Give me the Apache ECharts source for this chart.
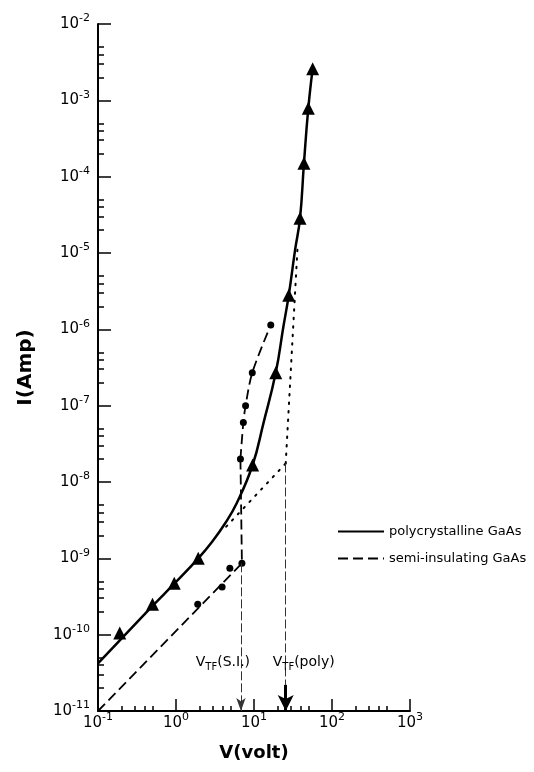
<!DOCTYPE html>
<html><head><meta charset="utf-8">
<script src="https://cdn.jsdelivr.net/npm/echarts@6/dist/echarts.min.js"></script>
<style>html,body{margin:0;padding:0;background:#fff}#c{width:534px;height:772px}</style>
</head><body><div id="c"></div>
<script>
// ---- data ----
const xMajorTicks = [0.1, 1, 10, 100, 1000];
const yMajorTicks = [1e-11, 1e-10, 1e-9, 1e-8, 1e-7, 1e-6, 1e-5, 1e-4, 1e-3, 1e-2];
const minorSteps = [2, 3, 4, 5];

const polyCurve = [[0.1,4.2e-11],[0.5,2.38e-10],[0.95,4.65e-10],[1.93,1e-9],[2.89,1.64e-9],[4.25,2.86e-9],[6.0,5.26e-9],[9.6,1.67e-8],[13.2,5.87e-8],[19,2.7e-7],[23.8,1.08e-6],[27.9,2.8e-6],[33.6,1.09e-5],[38.9,2.85e-5],[43.7,1.5e-4],[49.7,7.9e-4],[56.5,2.6e-3]];
const polyPoints = [[0.19,1.05e-10],[0.5,2.5e-10],[0.95,4.7e-10],[1.93,1e-9],[9.6,1.67e-8],[19,2.7e-7],[27.9,2.8e-6],[38.9,2.85e-5],[43.7,1.5e-4],[49.7,7.9e-4],[56.5,2.6e-3]];

const siCurveLow = [[0.1,1e-11],[7.0,8.6e-10],[6.7,2e-8]];
const siCurveHigh = [[6.7,2e-8],[7.3,6e-8],[7.8,1e-7],[9.5,2.7e-7],[16.4,1.14e-6]];
const siPoints = [[1.9,2.5e-10],[3.9,4.2e-10],[4.9,7.4e-10],[7.0,8.6e-10],[6.7,2e-8],[7.3,6e-8],[7.8,1e-7],[9.5,2.7e-7],[16.4,1.14e-6]];

const ohmicExtension = [[4.4,2.6e-9],[25.5,1.75e-8]];
const tflLine = [[25.5,1.75e-8],[36.3,1.27e-5]];

const vtfSI = 6.8, vtfSITop = 8.6e-10;
const vtfPoly = 25.5, vtfPolyTop = 1.75e-8, vtfPolyArrowTop = 2.2e-11;
const axisBottom = 1e-11;
const vtfLabelY = 4.4e-11;

const seriesNames = ['polycrystalline GaAs', 'semi-insulating GaAs'];

// ---- chart ----
const FONT = 'DejaVu Sans';
function minorOf(majors){
  const out = [];
  majors.slice(0, -1).forEach(m => minorSteps.forEach(k => out.push(+(m * k).toPrecision(3))));
  return out;
}
const xMinor = minorOf(xMajorTicks);
const yMinor = minorOf(yMajorTicks);
function powLabel(v){
  const e = Math.round(Math.log10(v));
  return '{b|10}{s|' + e + '}';
}
const richLab = {
  b: {fontSize: 15, lineHeight: 22, verticalAlign: 'middle', fontFamily: FONT, color: '#000'},
  s: {fontSize: 11, lineHeight: 12, verticalAlign: 'top', fontFamily: FONT, color: '#000'}
};
const richVtf = {
  v: {fontSize: 14, lineHeight: 22, verticalAlign: 'middle', fontFamily: FONT, color: '#000'},
  sub: {fontSize: 10, lineHeight: 12, verticalAlign: 'bottom', fontFamily: FONT, color: '#000'}
};
const black = '#000';

const chart = echarts.init(document.getElementById('c'), null, {renderer: 'canvas'});
chart.setOption({
  animation: false,
  backgroundColor: '#fff',
  grid: {left: 98, right: 124, top: 24, bottom: 61, containLabel: false},
  legend: {
    data: seriesNames, orient: 'vertical', left: 332, top: 520,
    itemWidth: 46, itemHeight: 14, itemGap: 14, selectedMode: false,
    itemStyle: {color: 'rgba(0,0,0,0)', borderWidth: 0, opacity: 0},
    textStyle: {fontFamily: FONT, fontSize: 13, color: '#000'}
  },
  xAxis: [
    {type: 'log', logBase: 10, min: 0.1, max: 1000, position: 'bottom',
     axisLine: {show: true, onZero: false, lineStyle: {color: black, width: 2}},
     axisTick: {show: true, inside: true, length: 12, customValues: xMajorTicks, lineStyle: {color: black, width: 1.5}},
     axisLabel: {show: true, margin: 1, customValues: xMajorTicks, formatter: powLabel, rich: richLab},
     splitLine: {show: false}, minorTick: {show: false},
     name: 'V(volt)', nameLocation: 'middle', nameGap: 33,
     nameTextStyle: {fontFamily: FONT, fontSize: 18, fontWeight: 'bold', color: '#000'}},
    {type: 'log', logBase: 10, min: 0.1, max: 1000, position: 'bottom',
     axisLine: {show: false}, axisLabel: {show: false}, splitLine: {show: false},
     axisTick: {show: true, inside: true, length: 5, customValues: xMinor, lineStyle: {color: black, width: 1.5}}}
  ],
  yAxis: [
    {type: 'log', logBase: 10, min: 1e-11, max: 1e-2, position: 'left',
     axisLine: {show: true, onZero: false, lineStyle: {color: black, width: 2}},
     axisTick: {show: true, inside: true, length: 13, customValues: yMajorTicks, lineStyle: {color: black, width: 1.5}},
     axisLabel: {show: true, margin: 8, customValues: yMajorTicks, formatter: powLabel, rich: richLab},
     splitLine: {show: false}, minorTick: {show: false},
     name: 'I(Amp)', nameLocation: 'middle', nameGap: 62, nameRotate: 90,
     nameTextStyle: {fontFamily: FONT, fontSize: 20, fontWeight: 'bold', color: '#000'}},
    {type: 'log', logBase: 10, min: 1e-11, max: 1e-2, position: 'left',
     axisLine: {show: false}, axisLabel: {show: false}, splitLine: {show: false},
     axisTick: {show: true, inside: true, length: 6, customValues: yMinor, lineStyle: {color: black, width: 1.5}}}
  ],
  series: [
    {name: seriesNames[0], type: 'line', data: polyCurve, symbol: 'none', smooth: 0.45,
     lineStyle: {color: black, width: 2.5}, itemStyle: {color: black}, z: 3},
    {name: seriesNames[1], type: 'line', data: siCurveLow, symbol: 'none', smooth: false,
     lineStyle: {color: black, width: 1.8, type: [10, 5]}, itemStyle: {color: black}, z: 3},
    {name: seriesNames[1], type: 'line', data: siCurveHigh, symbol: 'none', smooth: 0.3,
     lineStyle: {color: black, width: 1.8, type: [10, 5]}, itemStyle: {color: black}, z: 3},
    {name: 'poly points', type: 'scatter', data: polyPoints, symbol: 'triangle', symbolSize: 13,
     itemStyle: {color: black, opacity: 1}, z: 4},
    {name: 'si points', type: 'scatter', data: siPoints, symbol: 'circle', symbolSize: 7,
     itemStyle: {color: black, opacity: 1}, z: 4},
    {name: 'ohmic', type: 'line', data: ohmicExtension, symbol: 'none',
     lineStyle: {color: black, width: 2, type: [1.5, 7], cap: 'round'}, z: 2},
    {name: 'tfl', type: 'line', data: tflLine, symbol: 'none',
     lineStyle: {color: black, width: 2, type: [1.5, 7], cap: 'round'}, z: 2,
     markLine: {
       silent: true, animation: false, label: {show: false},
       data: [
         [{coord: [vtfSI, vtfSITop], symbol: 'none', lineStyle: {color: '#333', width: 1, type: [9, 3]}},
          {coord: [vtfSI, axisBottom], symbol: 'arrow', symbolSize: [7, 13]}],
         [{coord: [vtfPoly, vtfPolyTop], symbol: 'none', lineStyle: {color: '#333', width: 1, type: [9, 3]}},
          {coord: [vtfPoly, vtfPolyArrowTop], symbol: 'none'}],
         [{coord: [vtfPoly, vtfPolyArrowTop], symbol: 'none', lineStyle: {color: black, width: 3, type: 'solid'}},
          {coord: [vtfPoly, axisBottom], symbol: 'arrow', symbolSize: [12, 16]}]
       ]
     }},
    {name: 'labels', type: 'scatter', symbolSize: 0, silent: true, itemStyle: {opacity: 1},
     data: [
       {value: [vtfSI, vtfLabelY], label: {show: true, position: 'inside', offset: [-18, 0], color: '#000', rich: richVtf,
         formatter: '{v|V}{sub|TF}{v|(S.I.)}'}},
       {value: [vtfPoly, vtfLabelY], label: {show: true, position: 'inside', offset: [18, 0], color: '#000', rich: richVtf,
         formatter: '{v|V}{sub|TF}{v|(poly)}'}}
     ], z: 5}
  ]
});
</script>
</body></html>
